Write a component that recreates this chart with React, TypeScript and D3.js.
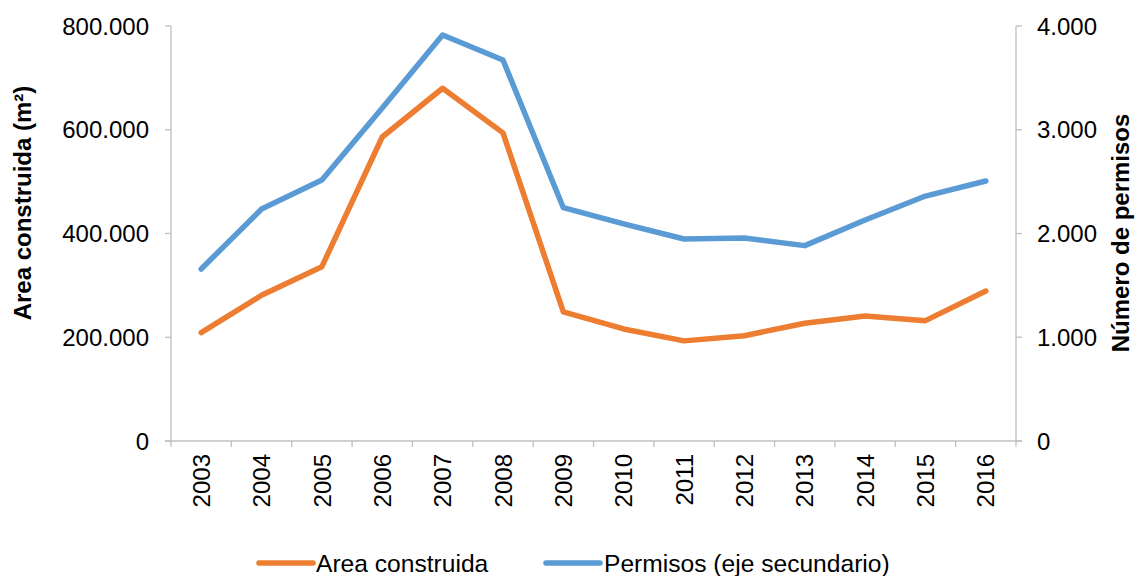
import React from "react";
import * as d3 from "d3";

const years = ["2003","2004","2005","2006","2007","2008","2009","2010","2011","2012","2013","2014","2015","2016"];
const areaConstruida = [209000, 281000, 336000, 586000, 680000, 594000, 249000, 216000, 193000, 203000, 227000, 241000, 232000, 289000];
const permisos = [1658, 2236, 2516, 3210, 3913, 3672, 2249, 2092, 1947, 1957, 1883, 2130, 2361, 2506];
const leftTicks = [0, 200000, 400000, 600000, 800000];
const rightTicks = [0, 1000, 2000, 3000, 4000];
const seriesNames = ["Area construida", "Permisos (eje secundario)"];

const W = 1135, H = 576;
const L = 171, R = 1016, T = 26, B = 441;
const ORANGE = "#ED7D31", BLUE = "#5B9BD5", AXIS = "#BFBFBF";
const FONT = "'Liberation Sans', Arial, sans-serif";
const FS = 24;
const FSL = 24.6;

const fmt = (v: number) => {
  if (v === 0) return "0";
  return d3.format(",")(v).replace(/,/g, ".");
};

export default function App() {
  const x = d3.scaleBand<string>().domain(years).range([L, R]);
  const yL = d3.scaleLinear().domain([0, 800000]).range([B, T]);
  const yR = d3.scaleLinear().domain([0, 4000]).range([B, T]);
  const cx = (d: string) => (x(d) as number) + x.bandwidth() / 2;

  const lineA = d3.line<number>().x((_, i) => cx(years[i])).y((v) => yL(v));
  const lineP = d3.line<number>().x((_, i) => cx(years[i])).y((v) => yR(v));

  const boundaries = years.map((y) => x(y) as number).concat([R]);

  return (
    <svg width={W} height={H} style={{ position: "absolute", left: 0, top: 0, background: "#fff" }} fontFamily={FONT}>
      {/* left axis */}
      <line x1={L} x2={L} y1={T} y2={B} stroke={AXIS} strokeWidth={1.3} />
      {leftTicks.map((t) => (
        <g key={"l" + t}>
          <line x1={L - 6} x2={L} y1={yL(t)} y2={yL(t)} stroke={AXIS} strokeWidth={1.3} />
          <text x={149} y={yL(t)} dy="0.36em" textAnchor="end" fontSize={FS} fill="#000">{fmt(t)}</text>
        </g>
      ))}
      {/* right axis */}
      <line x1={R} x2={R} y1={T} y2={B} stroke={AXIS} strokeWidth={1.3} />
      {rightTicks.map((t) => (
        <g key={"r" + t}>
          <line x1={R} x2={R + 6} y1={yR(t)} y2={yR(t)} stroke={AXIS} strokeWidth={1.3} />
          <text x={1037} y={yR(t)} dy="0.36em" textAnchor="start" fontSize={FS} fill="#000">{fmt(t)}</text>
        </g>
      ))}
      {/* bottom axis */}
      <line x1={L - 6} x2={R + 6} y1={B} y2={B} stroke={AXIS} strokeWidth={1.3} />
      {boundaries.map((bx, i) => (
        <line key={"b" + i} x1={bx} x2={bx} y1={B} y2={B + 6} stroke={AXIS} strokeWidth={1.3} />
      ))}
      {years.map((yr) => (
        <text key={yr} transform={`translate(${cx(yr)},${454}) rotate(-90)`} textAnchor="end" dy="0.36em" fontSize={FS} fill="#000">{yr}</text>
      ))}
      {/* axis titles */}
      <text transform={`translate(22,${203}) rotate(-90)`} textAnchor="middle" dy="0.36em" fontSize={FS} fontWeight="bold" fill="#000">Area construida (m²)</text>
      <text transform={`translate(1120,${233}) rotate(-90)`} textAnchor="middle" dy="0.36em" fontSize={FS} fontWeight="bold" fill="#000">Número de permisos</text>
      {/* lines */}
      <path d={lineP(permisos) as string} fill="none" stroke={BLUE} strokeWidth={5.5} strokeLinejoin="round" strokeLinecap="round" />
      <path d={lineA(areaConstruida) as string} fill="none" stroke={ORANGE} strokeWidth={5.5} strokeLinejoin="round" strokeLinecap="round" />
      {/* legend */}
      <line x1={259} x2={313} y1={563} y2={563} stroke={ORANGE} strokeWidth={5.5} strokeLinecap="round" />
      <text x={316} y={563} dy="0.36em" fontSize={FSL} fill="#000">{seriesNames[0]}</text>
      <line x1={546} x2={600} y1={563} y2={563} stroke={BLUE} strokeWidth={5.5} strokeLinecap="round" />
      <text x={604} y={563} dy="0.36em" fontSize={FSL} fill="#000">{seriesNames[1]}</text>
    </svg>
  );
}
